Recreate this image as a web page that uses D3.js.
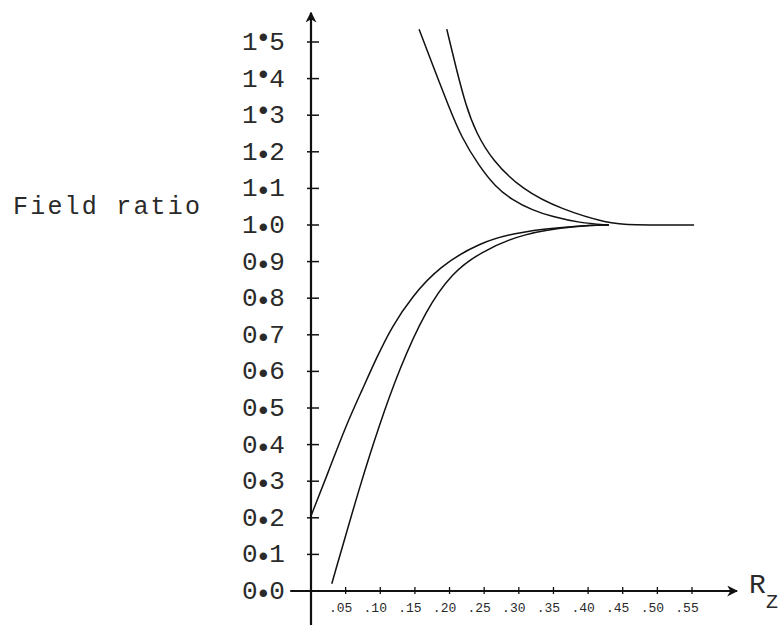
<!DOCTYPE html>
<html lang="en">
<head>
   <meta charset="UTF-8">
   <title>Field ratio vs Rz</title>
   <script src="https://d3js.org/d3.v7.min.js"></script>
   <style>
       body { margin: 0; background: #fff; }
       svg { display: block; }
       .tw { font-family: "Liberation Mono", "DejaVu Sans Mono", monospace; fill: #2a2a2a; }
   </style>
</head>
<body>
   <div id="chart"></div>
   <script>
       // y axis ticks and labels
       const yTicks = [0, 0.1, 0.2, 0.3, 0.4, 0.5, 0.6, 0.7, 0.8, 0.9, 1.0, 1.1, 1.2, 1.3, 1.4, 1.5];
       const yTickLabels = ["0.0", "0.1", "0.2", "0.3", "0.4", "0.5", "0.6", "0.7", "0.8", "0.9", "1.0", "1.1", "1.2", "1.3", "1.4", "1.5"];

       // x axis ticks and labels
       const xTicks = [0.05, 0.10, 0.15, 0.20, 0.25, 0.30, 0.35, 0.40, 0.45, 0.50, 0.55];
       const xTickLabels = [".05", ".10", ".15", ".20", ".25", ".30", ".35", ".40", ".45", ".50", ".55"];

       // upper curves (above 1.0)
       const upperLeftX = [0.156, 0.175, 0.199, 0.217, 0.243, 0.266, 0.290, 0.320, 0.348, 0.387, 0.430];
       const upperLeftY = [1.535, 1.44, 1.323, 1.240, 1.160, 1.105, 1.069, 1.040, 1.023, 1.006, 1.0];

       const upperRightX = [0.196, 0.209, 0.224, 0.238, 0.261, 0.305, 0.362, 0.430, 0.460, 0.553];
       const upperRightY = [1.535, 1.432, 1.323, 1.254, 1.178, 1.096, 1.042, 1.004, 1.0, 1.0];

       // lower curves (below 1.0)
       const lowerLeftX = [0, 0.027, 0.050, 0.074, 0.095, 0.117, 0.146, 0.185, 0.243, 0.300, 0.387, 0.430];
       const lowerLeftY = [0.205, 0.335, 0.45, 0.55, 0.639, 0.723, 0.805, 0.886, 0.952, 0.982, 0.998, 1.0];

       const lowerRightX = [0.030, 0.072, 0.098, 0.127, 0.166, 0.204, 0.243, 0.305, 0.387, 0.430];
       const lowerRightY = [0.02, 0.297, 0.45, 0.605, 0.769, 0.87, 0.924, 0.978, 0.998, 1.0];

       const curves = [
           [upperLeftX, upperLeftY],
           [upperRightX, upperRightY],
           [lowerLeftX, lowerLeftY],
           [lowerRightX, lowerRightY]
       ];

       const width = 778;
       const height = 625;

       const x = d3.scaleLinear().domain([0, 0.55]).range([311, 692]);
       const y = d3.scaleLinear().domain([0, 1.5]).range([591, 42]);

       const svg = d3.select("#chart").append("svg")
           .attr("width", width)
           .attr("height", height);

       svg.append("defs").append("marker")
           .attr("id", "arrow")
           .attr("viewBox", "0 0 10 10")
           .attr("refX", 9)
           .attr("refY", 5)
           .attr("markerWidth", 5)
           .attr("markerHeight", 5)
           .attr("markerUnits", "strokeWidth")
           .attr("orient", "auto")
           .append("path")
           .attr("d", "M0,0 L10,5 L0,10 L3,5 Z")
           .attr("fill", "#111");

       // axes
       svg.append("line")
           .attr("x1", x(0)).attr("y1", y(-0.095))
           .attr("x2", x(0)).attr("y2", y(1.58))
           .attr("stroke", "#111").attr("stroke-width", 2.2)
           .attr("marker-end", "url(#arrow)");

       svg.append("line")
           .attr("x1", x(-0.03)).attr("y1", y(0))
           .attr("x2", x(0.615)).attr("y2", y(0))
           .attr("stroke", "#111").attr("stroke-width", 2.2)
           .attr("marker-end", "url(#arrow)");

       // y ticks
       svg.selectAll(".ytick")
           .data(yTicks)
           .enter().append("line")
           .attr("class", "ytick")
           .attr("x1", x(0) - 4).attr("x2", x(0) + 8)
           .attr("y1", d => y(d)).attr("y2", d => y(d))
           .attr("stroke", "#111").attr("stroke-width", 1.5);

       // x ticks
       svg.selectAll(".xtick")
           .data(xTicks)
           .enter().append("line")
           .attr("class", "xtick")
           .attr("x1", d => x(d)).attr("x2", d => x(d))
           .attr("y1", y(0) - 4).attr("y2", y(0) + 3)
           .attr("stroke", "#111").attr("stroke-width", 1.3);

       // y tick labels, typewriter style with a heavy dot
       const ylab = svg.selectAll(".ylab")
           .data(yTicks)
           .enter().append("text")
           .attr("class", "tw")
           .attr("x", 242)
           .attr("y", d => y(d) + 8)
           .attr("font-size", 26)
           .attr("letter-spacing", -2);
       ylab.append("tspan").text((d, i) => yTickLabels[i].split(".")[0]);
       ylab.append("tspan")
           .attr("font-weight", "bold")
           .attr("dy", d => d >= 1.3 ? -4 : 3)
           .text("\u2022");
       ylab.append("tspan")
           .attr("dy", d => d >= 1.3 ? 4 : -3)
           .text((d, i) => yTickLabels[i].split(".")[1]);

       // x tick labels
       svg.selectAll(".xlab")
           .data(xTicks)
           .enter().append("text")
           .attr("class", "tw")
           .attr("x", d => x(d) - 5)
           .attr("y", y(0) + 21)
           .attr("text-anchor", "middle")
           .attr("font-size", 13)
           .text((d, i) => xTickLabels[i]);

       // curves
       const line = d3.line()
           .x(d => x(d[0]))
           .y(d => y(d[1]))
           .curve(d3.curveBasis);

       svg.selectAll(".curve")
           .data(curves)
           .enter().append("path")
           .attr("class", "curve")
           .attr("d", c => line(c[0].map((v, i) => [v, c[1][i]])))
           .attr("fill", "none")
           .attr("stroke", "#111")
           .attr("stroke-width", 1.5);

       // axis titles
       svg.append("text")
           .attr("class", "tw")
           .attr("x", 13)
           .attr("y", 214)
           .attr("font-size", 25)
           .attr("letter-spacing", 2.2)
           .text("Field ratio");

       svg.append("text")
           .attr("class", "tw")
           .attr("x", 749)
           .attr("y", 593)
           .attr("font-size", 28)
           .text("R");

       svg.append("text")
           .attr("class", "tw")
           .attr("x", 766)
           .attr("y", 608)
           .attr("font-size", 20)
           .text("Z");
   </script>
</body>
</html>
